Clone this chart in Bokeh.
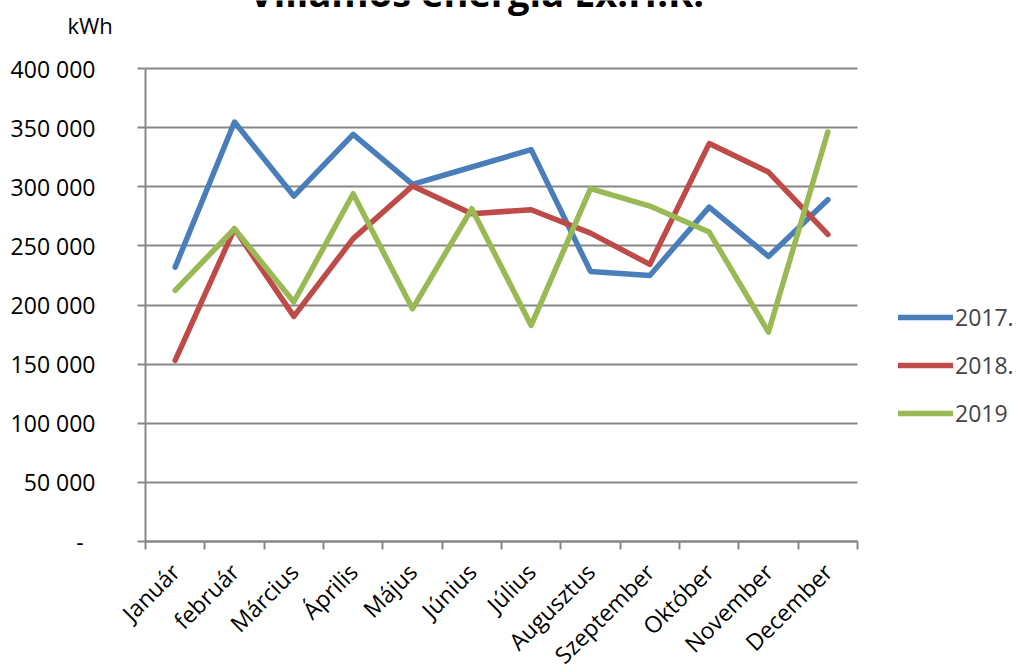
import math
from bokeh.plotting import figure
from bokeh.models import (Range1d, FixedTicker, Label, Legend, LegendItem,
                          LinearAxis, Grid)
from bokeh.embed import file_html
from bokeh.resources import INLINE

# Monthly electricity consumption (kWh)
months = ["Január", "február", "Március", "Április", "Május", "Június",
          "Július", "Augusztus", "Szeptember", "Október", "November", "December"]

series_names = ["2017.", "2018.", "2019"]
kwh_2017 = [232000, 354700, 292100, 344300, 302000, 316700,
            331400, 228400, 225000, 282800, 241100, 289100]
kwh_2018 = [153100, 264500, 190400, 256100, 300600, 277200,
            280600, 260800, 234300, 336500, 312400, 259700]
kwh_2019 = [212400, 264500, 202500, 294100, 196800, 281400,
            182700, 298400, 283700, 261700, 177100, 346300]

y_ticks = [0, 50000, 100000, 150000, 200000, 250000, 300000, 350000, 400000]
y_tick_labels = ["-\u00a0\u00a0", "50 000", "100 000", "150 000", "200 000",
                 "250 000", "300 000", "350 000", "400 000"]

title_text = "Villamos energia Ex.H.K."
unit_text = "kWh"

colors = ["#4A7EBB", "#BE4B48", "#98B954"]
font = "Open Sans"
grey = "#878787"

W, H = 1018, 666
# plot area inside the canvas (pixels)
area_left, area_right, area_top, area_bottom = 145, 857, 68, 541

n = len(months)
y_max = 400000
xs = [i + 0.5 for i in range(n)]

# the frame fills the canvas; ranges are set so the plot area sits at the
# pixel box above, leaving room for titles and legend inside the frame
px_x = (area_right - area_left) / n
px_y = (area_bottom - area_top) / y_max
x_range = Range1d(-area_left / px_x, n + (W - area_right) / px_x)
y_range = Range1d(-(H - area_bottom) / px_y, y_max + area_top / px_y)

p = figure(width=W, height=H, x_range=x_range, y_range=y_range,
           x_axis_type=None, y_axis_type=None,
           min_border=0, min_border_left=0, min_border_right=0,
           min_border_top=0, min_border_bottom=0,
           output_backend="svg", toolbar_location=None)
p.outline_line_color = None
p.background_fill_color = "white"
p.border_fill_color = "white"
p.grid.visible = False

# y axis: thousands with a space separator, dash for zero
yaxis = LinearAxis(fixed_location=0, bounds=(0, y_max),
                   ticker=FixedTicker(ticks=y_ticks, minor_ticks=[]))
yaxis.major_label_overrides = {t: s for t, s in zip(y_ticks, y_tick_labels)}
yaxis.major_tick_out = 8
yaxis.major_tick_in = 0
yaxis.minor_tick_out = 0
yaxis.minor_tick_in = 0
yaxis.major_tick_line_color = grey
yaxis.major_tick_line_width = 2
yaxis.axis_line_color = grey
yaxis.axis_line_width = 2
yaxis.major_label_standoff = 42
yaxis.major_label_text_font = font
yaxis.major_label_text_font_size = "23px"
yaxis.major_label_text_color = "black"
p.add_layout(yaxis, "left")

# x axis: labels at month centres, tick marks at month boundaries
xaxis = LinearAxis(fixed_location=0, bounds=(0, n),
                   ticker=FixedTicker(ticks=xs, minor_ticks=list(range(n + 1))))
xaxis.major_label_overrides = {x: m for x, m in zip(xs, months)}
xaxis.major_tick_out = 0
xaxis.major_tick_in = 0
xaxis.minor_tick_out = 8
xaxis.minor_tick_in = 0
xaxis.minor_tick_line_color = grey
xaxis.minor_tick_line_width = 2
xaxis.axis_line_color = grey
xaxis.axis_line_width = 2
xaxis.major_label_orientation = math.pi / 4
xaxis.major_label_standoff = 18
xaxis.major_label_text_font = font
xaxis.major_label_text_font_size = "23px"
xaxis.major_label_text_color = "black"
p.add_layout(xaxis, "below")

# horizontal grid limited to the plot area
ygrid = Grid(dimension=1, ticker=yaxis.ticker, bounds=(0, y_max),
             cross_bounds=(0, n), grid_line_color=grey, grid_line_width=2)
p.add_layout(ygrid)

renderers = []
for vals, c in zip([kwh_2017, kwh_2018, kwh_2019], colors):
    r = p.line(xs, vals, line_color=c, line_width=5.5, line_join="round",
               line_cap="round")
    renderers.append(r)

legend = Legend(items=[LegendItem(label=s, renderers=[r])
                       for s, r in zip(series_names, renderers)],
                location=(898, 237), orientation="vertical",
                glyph_width=55, glyph_height=24, label_height=24,
                spacing=16, padding=0, margin=0, label_standoff=2,
                label_text_font=font, label_text_font_size="23px",
                border_line_color=None, background_fill_alpha=0)
p.add_layout(legend, "center")

p.add_layout(Label(x=(476 - area_left) / px_x, y=y_max + 77 / px_y,
                   text=title_text, text_align="center",
                   text_baseline="alphabetic", text_font=font,
                   text_font_style="bold", text_font_size="38px",
                   text_color="black"))
p.add_layout(Label(x=(67 - area_left) / px_x, y=y_max + 44 / px_y,
                   text=unit_text, text_align="left",
                   text_baseline="alphabetic", text_font=font,
                   text_font_size="22px", text_color="black"))

open("out.html", "w").write(file_html(p, INLINE))
